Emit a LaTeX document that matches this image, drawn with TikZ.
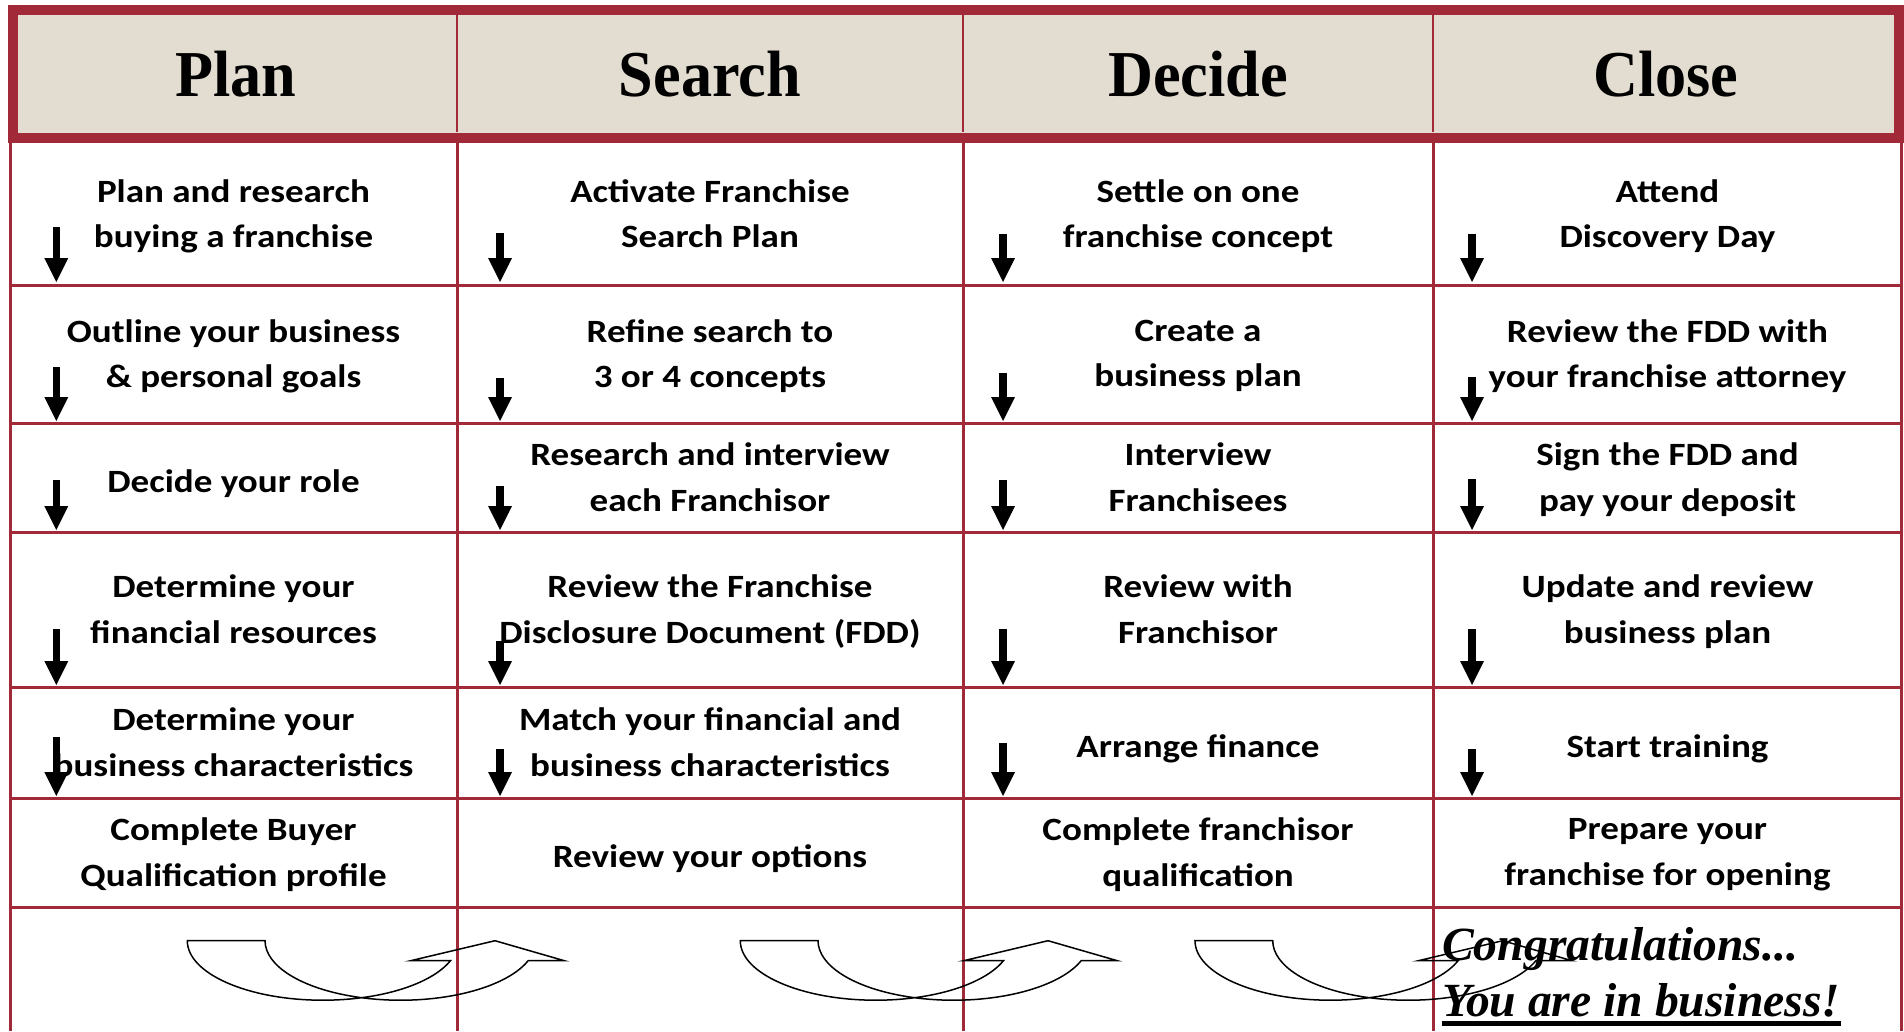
\documentclass[tikz,border=0pt]{standalone}
\usepackage{fontspec}
\usetikzlibrary{arrows.meta}
\newfontfamily\cellfont{Carlito}[FakeStretch=1.14]
\newfontfamily\headfont{Liberation Serif}[FakeStretch=0.95]
\newfontfamily\congfont{Liberation Serif}
\definecolor{tablered}{RGB}{161,41,56}
\definecolor{headbeige}{RGB}{227,221,209}
\newcommand{\cellstrut}{\rule[-10pt]{0pt}{40.5pt}}

\begin{document}
\begin{tikzpicture}[x=1pt,y=-1pt,
  grid/.style={tablered,line width=3pt},
  cell/.style={font=\cellfont\bfseries\fontsize{32.5}{45.5}\selectfont,align=center,inner sep=0pt,
    yshift=-4.5pt,execute at begin node=\cellstrut,execute at end node=\cellstrut},
  head/.style={font=\headfont\bfseries\fontsize{65.5}{70}\selectfont,anchor=base,inner sep=0pt},
  cong/.style={font=\congfont\bfseries\itshape\fontsize{47.6}{55}\selectfont,anchor=base west,inner sep=0pt},
  down/.style={line width=7.3pt,-{Triangle[width=24pt,length=24pt,line width=0pt]}},
  uturn/.pic={
    \draw[line width=1.5pt] (0,0) arc[start angle=180,end angle=19.64,x radius=135.5,y radius=59.5]
      -- (223.4,20) -- (307.7,0) -- (377,20) -- (340.85,20)
      arc[start angle=19.64,end angle=180,x radius=135.5,y radius=59.5] -- cycle;
  }]
\useasboundingbox (0,0) rectangle (1904,1031);

% table lines
\foreach \gx in {10,457,963,1433,1901.5}
  \draw[grid] (\gx,142) -- (\gx,1031);
\foreach \gy in {285.5,423,532,687,798,907}
  \draw[grid] (10,\gy) -- (1901.5,\gy);

% header band
\draw[tablered,fill=headbeige,line width=10pt] (12.5,10) rectangle (1899,137.5);
\foreach \gx in {457,963,1433}
  \draw[tablered,line width=2pt] (\gx,15) -- (\gx,132);
\foreach \name/\cx in {Plan/236,Search/710,Decide/1198,Close/1666}
  \node[head] (h\name) at (\cx,96.7) {\name};

% Plan
\foreach \txt/\cy [count=\r] in {{Plan and research\\buying a franchise}/214,
    {Outline your business\\\& personal goals}/354,{Decide your role}/477.5,
    {Determine your\\financial resources}/609.5,{Determine your\\business characteristics}/742.5,
    {Complete Buyer\\Qualification profile}/852.5}
  \node[cell] (plan\r) at (233.5,\cy) {\txt};

% Search
\foreach \txt/\cy [count=\r] in {{Activate Franchise\\Search Plan}/214,
    {Refine search to\\3 or 4 concepts}/354,{Research and interview\\each Franchisor}/477.5,
    {Review the Franchise\\Disclosure Document (FDD)}/609.5,{Match your financial and\\business characteristics}/742.5,
    {Review your options}/852.5}
  \node[cell] (search\r) at (710,\cy) {\txt};

% Decide
\foreach \txt/\cy [count=\r] in {{Settle on one\\franchise concept}/214,
    {Create a\\business plan}/354,{Interview\\Franchisees}/477.5,
    {Review with\\Franchisor}/609.5,{Arrange finance}/742.5,
    {Complete franchisor\\qualification}/852.5}
  \node[cell] (decide\r) at (1198,\cy) {\txt};

% Close
\foreach \txt/\cy [count=\r] in {{Attend\\Discovery Day}/214,
    {Review the FDD with\\your franchise attorney}/354,{Sign the FDD and\\pay your deposit}/477.5,
    {Update and review\\business plan}/609.5,{Start training}/742.5,
    {Prepare your\\franchise for opening}/852.5}
  \node[cell] (close\r) at (1667.5,\cy) {\txt};

% small down arrows
\foreach \ax/\ta/\tb/\tc/\td/\te in {56.3/227/367/480/629/737,500/233/378/486/641/749,
    1003/234/373/480/629/743,1472/234/377/479/629/749}{
  \draw[down] (\ax,\ta) -- (\ax,282);
  \draw[down] (\ax,\tb) -- (\ax,421);
  \draw[down] (\ax,\tc) -- (\ax,530);
  \draw[down] (\ax,\td) -- (\ax,685);
  \draw[down] (\ax,\te) -- (\ax,796);
}

% bottom row
\pic at (187.3,940.7) {uturn};
\pic at (740.3,940.7) {uturn};
\pic at (1195,940.7) {uturn};
\node[cong] (congrats) at (1442,960.7) {Congratulations...};
\node[cong] (business) at (1442,1016) {You are in business!};
\draw[line width=4.5pt] ([yshift=-7.5pt]business.base west) -- ([yshift=-7.5pt]business.base east);

\end{tikzpicture}
\end{document}
